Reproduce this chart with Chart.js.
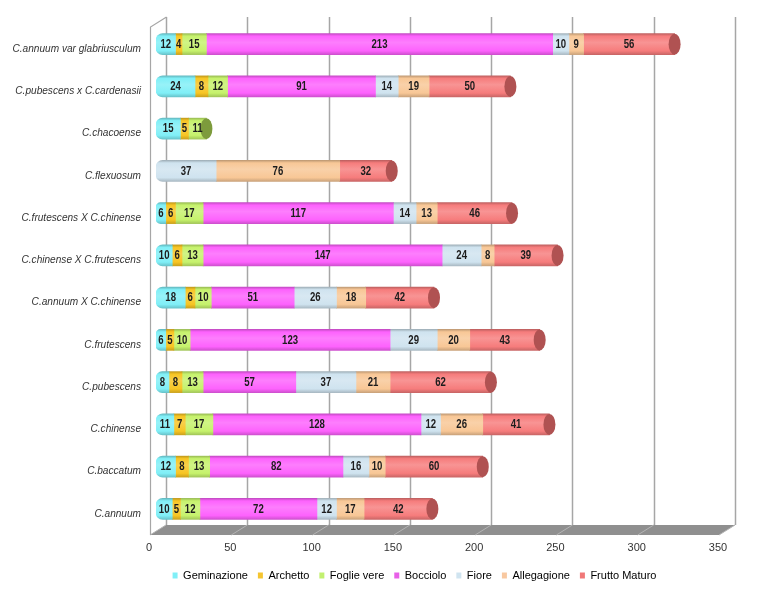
<!DOCTYPE html>
<html><head><meta charset="utf-8">
<script src="https://cdn.jsdelivr.net/npm/chart.js@4.4.0/dist/chart.umd.min.js"></script>
<style>html,body{margin:0;padding:0;background:#fff}</style>
</head><body>
<canvas id="c" width="773" height="600"></canvas>
<script>
const categories = [
  'C.annuum var glabriusculum',
  'C.pubescens x C.cardenasii',
  'C.chacoense',
  'C.flexuosum',
  'C.frutescens X C.chinense',
  'C.chinense X C.frutescens',
  'C.annuum X C.chinense',
  'C.frutescens',
  'C.pubescens',
  'C.chinense',
  'C.baccatum',
  'C.annuum'
];
const seriesNames = ['Geminazione','Archetto','Foglie vere','Bocciolo','Fiore','Allegagione','Frutto Maturo'];
const geminazione  = [12,24,15, 0,  6, 10,18,  6, 8, 11,12,10];
const archetto     = [ 4, 8, 5, 0,  6,  6, 6,  5, 8,  7, 8, 5];
const foglieVere   = [15,12,11, 0, 17, 13,10, 10,13, 17,13,12];
const bocciolo     = [213,91,0, 0,117,147,51,123,57,128,82,72];
const fiore        = [10,14, 0,37, 14, 24,26, 29,37, 12,16,12];
const allegagione  = [ 9,19, 0,76, 13,  8,18, 20,21, 26,10,17];
const fruttoMaturo = [56,50, 0,32, 46, 39,42, 43,62, 41,60,42];
const xTickValues = [0,50,100,150,200,250,300,350];

const seriesData = [geminazione, archetto, foglieVere, bocciolo, fiore, allegagione, fruttoMaturo];
const baseColors = ['#80eff7','#f7c523','#c6f26c','#fd62fd','#cfe3ef','#f8c796','#f67c7c'];
const legendColors = ['#80eff7','#f5c530','#c2f070','#e860e8','#d0e4f0','#f8c8a0','#f07878'];
const capColors = ['#5cbcc4','#c89a10','#7d9b3c','#b040b0','#9fb6c4','#c89a6c','#b05252'];

function hexToRgb(h){h=h.replace('#','');return [parseInt(h.substr(0,2),16),parseInt(h.substr(2,2),16),parseInt(h.substr(4,2),16)];}
function mix(h,f){const c=hexToRgb(h);return 'rgb('+c.map(v=>Math.round(f>=0? v+(255-v)*f : v*(1+f))).join(',')+')';}

const BAR_T = 21;
function gradFor(chart, di, dataIndex){
  const ys = chart.scales.y;
  const base = baseColors[di];
  if(!ys || !chart.chartArea) return base;
  const cy = ys.getPixelForValue(dataIndex);
  const g = chart.ctx.createLinearGradient(0, cy-BAR_T/2, 0, cy+BAR_T/2);
  g.addColorStop(0, mix(base,-0.22));
  g.addColorStop(0.12, base);
  g.addColorStop(0.42, mix(base,0.18));
  g.addColorStop(0.82, base);
  g.addColorStop(1, mix(base,-0.18));
  return g;
}
function firstNonZero(i){for(let d=0;d<seriesData.length;d++){if(seriesData[d][i]>0)return d;}return -1;}
function lastNonZero(i){for(let d=seriesData.length-1;d>=0;d--){if(seriesData[d][i]>0)return d;}return -1;}

const datasets = seriesNames.map((name, di) => ({
  label: name,
  data: seriesData[di].map(v => v > 0 ? v : null),
  backgroundColor: (ctx) => gradFor(ctx.chart, di, ctx.dataIndex),
  borderWidth: 0,
  borderSkipped: false,
  borderRadius: (ctx) => firstNonZero(ctx.dataIndex) === di ? {topLeft:7,bottomLeft:7,topRight:0,bottomRight:0} : 0,
  barThickness: BAR_T
}));

const decor = {
  id: 'decor',
  beforeDatasetsDraw(chart){
    const {ctx, chartArea: ca} = chart;
    const xs = chart.scales.x;
    const x0 = xs.getPixelForValue(0), xm = xs.getPixelForValue(350);
    const fx = -6, bx = 10;
    const fb = ca.bottom + 5, bb = ca.bottom - 5;
    ctx.save();
    ctx.fillStyle = '#8f8f8f';
    ctx.beginPath();
    ctx.moveTo(x0+fx, fb); ctx.lineTo(x0+bx, bb); ctx.lineTo(xm+bx, bb); ctx.lineTo(xm+fx, fb);
    ctx.closePath(); ctx.fill();
    ctx.strokeStyle = '#b4b4b4'; ctx.lineWidth = 1;
    xTickValues.forEach(v => {
      const x = xs.getPixelForValue(v);
      ctx.beginPath(); ctx.moveTo(x+bx, bb); ctx.lineTo(x+fx, fb); ctx.stroke();
    });
    ctx.strokeStyle = '#a6a6a6'; ctx.lineWidth = 1.5;
    xTickValues.forEach(v => {
      const x = Math.round(xs.getPixelForValue(v)+bx)+0.5;
      ctx.beginPath(); ctx.moveTo(x, ca.top-6); ctx.lineTo(x, bb); ctx.stroke();
    });
    ctx.strokeStyle = '#a6a6a6'; ctx.lineWidth = 1.2;
    ctx.beginPath();
    ctx.moveTo(x0+fx+0.5, fb); ctx.lineTo(x0+fx+0.5, ca.top+4); ctx.lineTo(x0+bx+0.5, ca.top-6);
    ctx.stroke();
    ctx.restore();
  },
  afterDatasetsDraw(chart){
    const ctx = chart.ctx;
    ctx.save();
    categories.forEach((c, i) => {
      const d = lastNonZero(i);
      if(d < 0) return;
      const el = chart.getDatasetMeta(d).data[i];
      ctx.fillStyle = capColors[d];
      ctx.beginPath();
      ctx.ellipse(el.x, el.y, 6, BAR_T/2, 0, 0, Math.PI*2);
      ctx.fill();
    });
    ctx.font = "bold 12px 'Liberation Sans', Arial, sans-serif";
    ctx.fillStyle = '#1c1c1c';
    ctx.textAlign = 'center'; ctx.textBaseline = 'middle';
    const sx = 0.8;
    seriesData.forEach((arr, d) => {
      const meta = chart.getDatasetMeta(d);
      arr.forEach((v, i) => {
        if(!v) return;
        const el = meta.data[i];
        const cx = (el.x + el.base)/2;
        ctx.save();
        ctx.translate(cx, el.y + 0.5);
        ctx.scale(sx, 1);
        ctx.fillText(String(v), 0, 0);
        ctx.restore();
      });
    });
    ctx.restore();
  },
  afterLayout(chart){
    if(chart.legend){ chart.legend.left += 52; chart.legend.right += 52; }
  }
};

new Chart(document.getElementById('c'), {
  type: 'bar',
  data: { labels: categories, datasets },
  options: {
    indexAxis: 'y',
    responsive: false,
    animation: false,
    devicePixelRatio: 1,
    layout: { padding: { top: 23, right: 48, bottom: 9, left: 0 } },
    scales: {
      x: {
        stacked: true, min: 0, max: 350,
        afterBuildTicks(s){ s.ticks = xTickValues.map(v => ({value: v})); },
        afterFit(s){ s.height = 30; },
        grid: { display: false, drawTicks: false },
        border: { display: false },
        ticks: { padding: 11, labelOffset: -7, color: '#333', font: { family: "'Liberation Sans', Arial, sans-serif", size: 11 } }
      },
      y: {
        stacked: true,
        afterFit(s){ s.width = 156; },
        grid: { display: false, drawTicks: false },
        border: { display: false },
        ticks: { padding: 15, labelOffset: 5, color: '#333', font: { family: "'Liberation Sans', Arial, sans-serif", size: 10.1, style: 'italic' } }
      }
    },
    plugins: {
      legend: {
        position: 'bottom',
        labels: {
          boxWidth: 5, boxHeight: 6, padding: 10, color: '#333',
          font: { family: "'Liberation Sans', Arial, sans-serif", size: 11 },
          generateLabels(chart){
            return seriesNames.map((n, i) => ({ text: n, fillStyle: legendColors[i], strokeStyle: legendColors[i], lineWidth: 0, hidden: false, datasetIndex: i }));
          }
        }
      },
      tooltip: { enabled: false }
    }
  },
  plugins: [decor]
});
</script>
</body></html>
